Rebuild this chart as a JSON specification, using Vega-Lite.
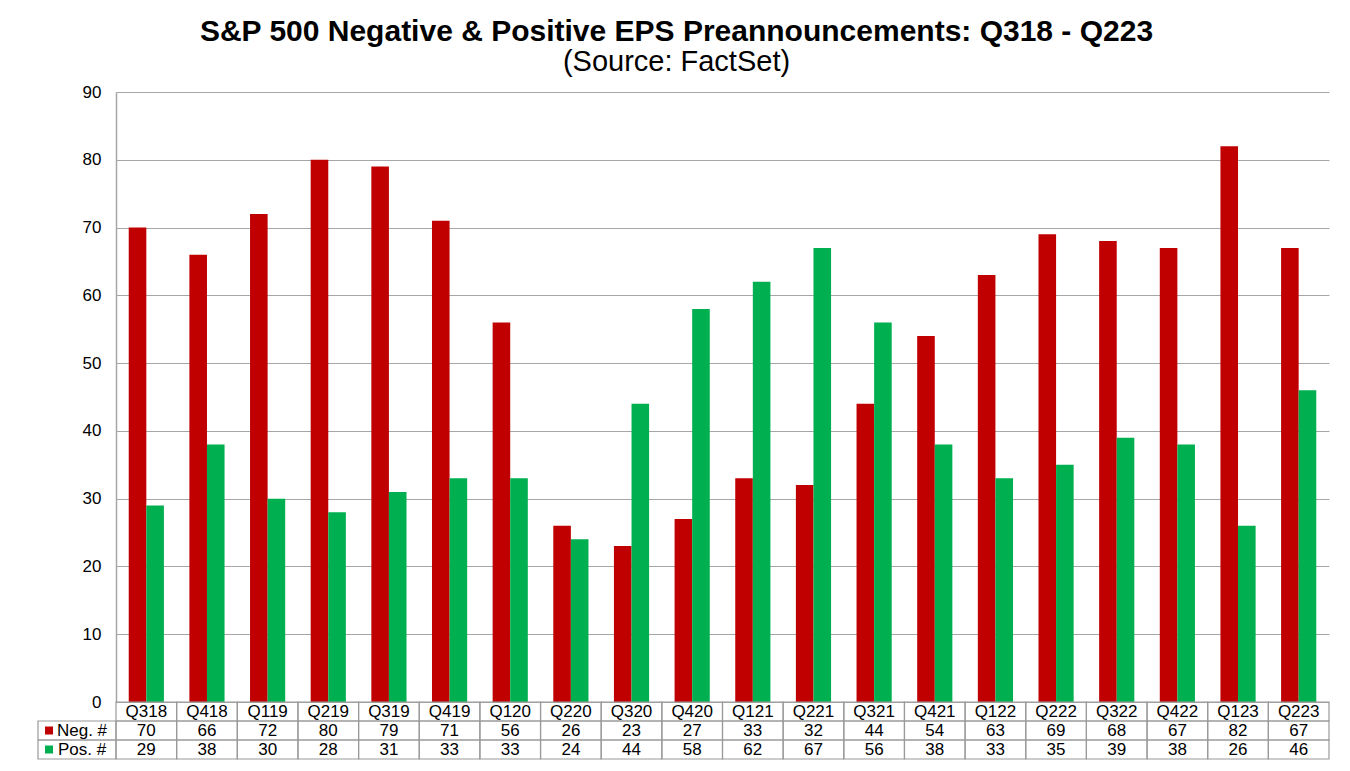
{
  "$schema": "https://vega.github.io/schema/vega-lite/v6.json",
  "padding": {"left": 37, "top": 17, "right": 5, "bottom": 5},
  "background": "white",
  "bounds": "flush",
  "spacing": 0,
  "config": {"font": "Liberation Sans", "view": {"stroke": null}},
  "title": {
    "text": "S&P 500 Negative & Positive EPS Preannouncements: Q318 - Q223",
    "subtitle": "(Source: FactSet)",
    "anchor": "middle",
    "dx": -7,
    "fontSize": 30,
    "fontWeight": "bold",
    "color": "#000000",
    "subtitleFontSize": 29,
    "subtitleColor": "#000000",
    "subtitlePadding": 1,
    "offset": 6
  },
  "datasets": {
    "bars": [
      {"q": "Q318", "s": "Neg. #", "v": 70}, {"q": "Q318", "s": "Pos. #", "v": 29},
      {"q": "Q418", "s": "Neg. #", "v": 66}, {"q": "Q418", "s": "Pos. #", "v": 38},
      {"q": "Q119", "s": "Neg. #", "v": 72}, {"q": "Q119", "s": "Pos. #", "v": 30},
      {"q": "Q219", "s": "Neg. #", "v": 80}, {"q": "Q219", "s": "Pos. #", "v": 28},
      {"q": "Q319", "s": "Neg. #", "v": 79}, {"q": "Q319", "s": "Pos. #", "v": 31},
      {"q": "Q419", "s": "Neg. #", "v": 71}, {"q": "Q419", "s": "Pos. #", "v": 33},
      {"q": "Q120", "s": "Neg. #", "v": 56}, {"q": "Q120", "s": "Pos. #", "v": 33},
      {"q": "Q220", "s": "Neg. #", "v": 26}, {"q": "Q220", "s": "Pos. #", "v": 24},
      {"q": "Q320", "s": "Neg. #", "v": 23}, {"q": "Q320", "s": "Pos. #", "v": 44},
      {"q": "Q420", "s": "Neg. #", "v": 27}, {"q": "Q420", "s": "Pos. #", "v": 58},
      {"q": "Q121", "s": "Neg. #", "v": 33}, {"q": "Q121", "s": "Pos. #", "v": 62},
      {"q": "Q221", "s": "Neg. #", "v": 32}, {"q": "Q221", "s": "Pos. #", "v": 67},
      {"q": "Q321", "s": "Neg. #", "v": 44}, {"q": "Q321", "s": "Pos. #", "v": 56},
      {"q": "Q421", "s": "Neg. #", "v": 54}, {"q": "Q421", "s": "Pos. #", "v": 38},
      {"q": "Q122", "s": "Neg. #", "v": 63}, {"q": "Q122", "s": "Pos. #", "v": 33},
      {"q": "Q222", "s": "Neg. #", "v": 69}, {"q": "Q222", "s": "Pos. #", "v": 35},
      {"q": "Q322", "s": "Neg. #", "v": 68}, {"q": "Q322", "s": "Pos. #", "v": 39},
      {"q": "Q422", "s": "Neg. #", "v": 67}, {"q": "Q422", "s": "Pos. #", "v": 38},
      {"q": "Q123", "s": "Neg. #", "v": 82}, {"q": "Q123", "s": "Pos. #", "v": 26},
      {"q": "Q223", "s": "Neg. #", "v": 67}, {"q": "Q223", "s": "Pos. #", "v": 46}
    ],
    "quarters": [
      {"q": "Q318"}, {"q": "Q418"}, {"q": "Q119"}, {"q": "Q219"}, {"q": "Q319"},
      {"q": "Q419"}, {"q": "Q120"}, {"q": "Q220"}, {"q": "Q320"}, {"q": "Q420"},
      {"q": "Q121"}, {"q": "Q221"}, {"q": "Q321"}, {"q": "Q421"}, {"q": "Q122"},
      {"q": "Q222"}, {"q": "Q322"}, {"q": "Q422"}, {"q": "Q123"}, {"q": "Q223"}
    ],
    "legend": [{"lab": "Neg. #"}, {"lab": "Pos. #"}]
  },
  "vconcat": [
    {
      "width": 1213,
      "height": 610,
      "data": {"name": "bars"},
      "mark": {"type": "bar"},
      "encoding": {
        "x": {"field": "q", "type": "nominal", "sort": null,
              "scale": {"paddingInner": 0.42, "paddingOuter": 0.21}, "axis": null},
        "xOffset": {"field": "s", "type": "nominal", "sort": ["Neg. #", "Pos. #"],
                    "scale": {"paddingInner": 0, "paddingOuter": 0}},
        "y": {"field": "v", "type": "quantitative",
              "scale": {"domain": [0, 90], "nice": false},
              "axis": {"values": [0, 10, 20, 30, 40, 50, 60, 70, 80, 90], "grid": true,
                       "gridColor": "#A6A6A6", "gridWidth": 1.2, "domainColor": "#A6A6A6", "domainWidth": 1.5,
                       "ticks": false, "labelFontSize": 17, "labelPadding": 15,
                       "labelColor": "#000000", "title": null}},
        "color": {"field": "s", "type": "nominal",
                  "scale": {"domain": ["Neg. #", "Pos. #"], "range": ["#C00000", "#00B050"]},
                  "legend": null}
      }
    },
    {
      "width": 1213,
      "height": 57,
      "resolve": {"scale": {"x": "independent"}},
      "encoding": {
        "y": {"field": "s", "type": "nominal",
              "scale": {"domain": ["Quarter", "Neg. #", "Pos. #"], "paddingInner": 0, "paddingOuter": 0},
              "axis": null}
      },
      "layer": [
        {
          "data": {"name": "bars"},
          "mark": {"type": "rect", "filled": false, "stroke": "#9A9A9A", "strokeWidth": 1.2},
          "encoding": {
            "x": {"field": "q", "type": "nominal", "sort": null,
                  "scale": {"paddingInner": 0, "paddingOuter": 0}, "axis": null},
            "y": {"field": "s", "type": "nominal"}
          }
        },
        {
          "data": {"name": "bars"},
          "mark": {"type": "text", "fontSize": 17, "color": "#000000"},
          "encoding": {
            "x": {"field": "q", "type": "nominal", "sort": null,
                  "scale": {"paddingInner": 0, "paddingOuter": 0}, "axis": null},
            "y": {"field": "s", "type": "nominal"},
            "text": {"field": "v", "type": "quantitative"}
          }
        },
        {
          "data": {"name": "quarters"},
          "mark": {"type": "rect", "filled": false, "stroke": "#9A9A9A", "strokeWidth": 1.2},
          "encoding": {
            "x": {"field": "q", "type": "nominal", "sort": null,
                  "scale": {"paddingInner": 0, "paddingOuter": 0}, "axis": null},
            "y": {"datum": "Quarter", "type": "nominal"}
          }
        },
        {
          "data": {"name": "quarters"},
          "mark": {"type": "text", "fontSize": 17, "color": "#000000"},
          "encoding": {
            "x": {"field": "q", "type": "nominal", "sort": null,
                  "scale": {"paddingInner": 0, "paddingOuter": 0}, "axis": null},
            "y": {"datum": "Quarter", "type": "nominal"},
            "text": {"field": "q", "type": "nominal"}
          }
        },
        {
          "data": {"name": "legend"},
          "mark": {"type": "rect", "filled": false, "stroke": "#9A9A9A", "strokeWidth": 1.2},
          "encoding": {
            "x": {"datum": "L", "type": "nominal",
                  "scale": {"domain": ["L"], "range": [-78, 0], "paddingInner": 0, "paddingOuter": 0}, "axis": null},
            "y": {"field": "lab", "type": "nominal"}
          }
        },
        {
          "data": {"name": "legend"},
          "mark": {"type": "text", "fontSize": 17, "color": "#000000", "dx": 5},
          "encoding": {
            "x": {"datum": "L", "type": "nominal",
                  "scale": {"domain": ["L"], "range": [-78, 0], "paddingInner": 0, "paddingOuter": 0}, "axis": null},
            "y": {"field": "lab", "type": "nominal"},
            "text": {"field": "lab", "type": "nominal"}
          }
        },
        {
          "data": {"name": "legend"},
          "mark": {"type": "point", "shape": "square", "filled": true, "size": 64, "opacity": 1, "xOffset": -28},
          "encoding": {
            "x": {"datum": "L", "type": "nominal",
                  "scale": {"domain": ["L"], "range": [-78, 0], "paddingInner": 0, "paddingOuter": 0}, "axis": null},
            "y": {"field": "lab", "type": "nominal"},
            "color": {"field": "lab", "type": "nominal", "legend": null}
          }
        }
      ]
    }
  ]
}
